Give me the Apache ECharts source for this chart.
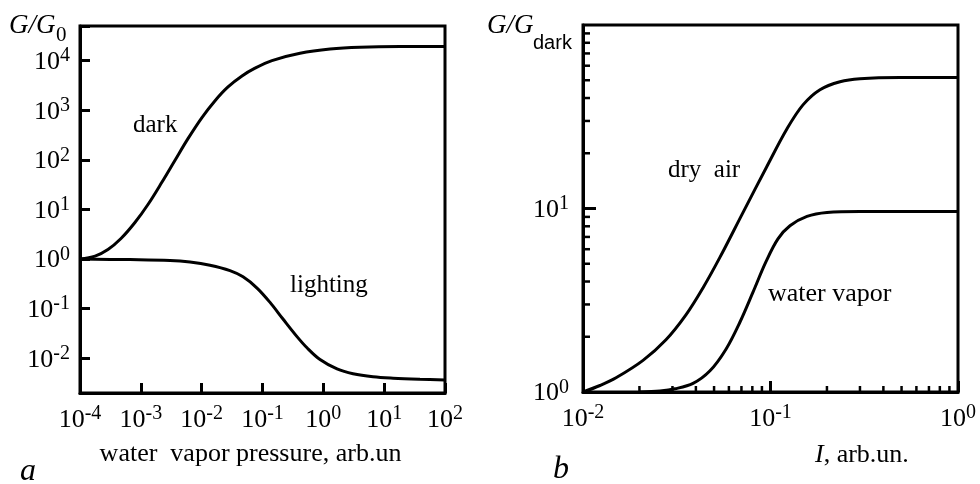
<!DOCTYPE html>
<html>
<head>
<meta charset="utf-8">
<title>G/G0 vs water vapor pressure</title>
<script src="https://cdn.jsdelivr.net/npm/echarts@6/dist/echarts.min.js"></script>
<style>
    html, body { margin: 0; padding: 0; background: #fff; }
    #chart { width: 980px; height: 484px; }
</style>
</head>
<body>
<div id="chart"></div>
<script>
// panel a: G/G0 against water vapor pressure
var darkX = [1e-4, 1.77e-4, 2.88e-4, 4.72e-4, 8.0e-4, 1.31e-3, 2.23e-3, 3.65e-3, 5.96e-3, 1.01e-2, 1.66e-2, 2.71e-2, 4.6e-2, 7.53e-2, 0.143, 0.414, 1.29, 4.0, 18.2, 100];
var darkY = [1, 1.15, 1.56, 2.6, 5.46, 12.6, 35.8, 98.6, 268, 713, 1563, 2958, 4910, 7050, 10050, 14100, 17140, 18660, 19200, 19200];
var lightX = [1e-4, 6.64e-4, 3.02e-3, 6.43e-3, 0.0137, 0.0292, 0.0479, 0.0813, 0.133, 0.217, 0.369, 0.539, 0.882, 1.68, 3.08, 6.56, 14.0, 38.8, 100];
var lightY = [1, 0.977, 0.941, 0.874, 0.753, 0.586, 0.439, 0.261, 0.134, 0.062, 0.0274, 0.0163, 0.00946, 0.00611, 0.00489, 0.00425, 0.00398, 0.00378, 0.00366];

// panel b: G/Gdark against light intensity
var dryX = [0.01, 0.01232, 0.015, 0.0209, 0.0277, 0.0354, 0.0437, 0.0538, 0.0713, 0.0958, 0.1225, 0.149, 0.1836, 0.2348, 0.30, 0.4905, 1];
var dryY = [1, 1.085, 1.195, 1.487, 1.927, 2.634, 3.703, 5.43, 9.5, 17.0, 27.2, 36.7, 44.4, 49.1, 51.0, 51.8, 51.8];
var vaporX = [0.0201, 0.02575, 0.03096, 0.03862, 0.04756, 0.05789, 0.06876, 0.08066, 0.09462, 0.1096, 0.127, 0.1565, 0.2001, 0.30, 1];
var vaporY = [1, 1.013, 1.041, 1.114, 1.305, 1.711, 2.407, 3.5, 5.13, 6.83, 8.05, 9.05, 9.51, 9.63, 9.63];

// minor ticks of panel b
var minorXB = [0.02, 0.03, 0.04, 0.05, 0.06, 0.07, 0.08, 0.09, 0.2, 0.3, 0.4, 0.5, 0.6, 0.7, 0.8, 0.9];
var minorYB = [2, 3, 4, 5, 6, 7, 8, 9, 20, 30, 40, 50, 60, 70, 80, 90];

var serif = '"Liberation Serif", "DejaVu Serif", serif';
var sans = '"Liberation Sans", Arial, sans-serif';

function pairs(xs, ys) {
    return xs.map(function (x, i) { return [x, ys[i]]; });
}

// 10^n label, skip values that are not whole decades
function powLabel(v) {
    var n = Math.log10(v);
    if (Math.abs(n - Math.round(n)) > 1e-6) {
        return '';
    }
    return '{m|10}{s|' + Math.round(n) + '}';
}

var labelRich = {
    m: { fontFamily: serif, fontSize: 26, lineHeight: 29, color: '#000', verticalAlign: 'bottom' },
    s: { fontFamily: serif, fontSize: 20, lineHeight: 20, color: '#000', verticalAlign: 'top' }
};

function curve(name, xi, yi, data) {
    return {
        name: name,
        type: 'line',
        xAxisIndex: xi,
        yAxisIndex: yi,
        data: data,
        smooth: 0.35,
        showSymbol: false,
        lineStyle: { color: '#000', width: 3 },
        silent: true
    };
}

function minorTicks(data, horizontal) {
    return {
        type: 'custom',
        xAxisIndex: 1,
        yAxisIndex: 1,
        silent: true,
        data: data,
        renderItem: function (params, api) {
            var p = api.coord([api.value(0), api.value(1)]);
            var end = horizontal ? [p[0] + 7, p[1]] : [p[0], p[1] - 6];
            return {
                type: 'line',
                shape: { x1: p[0], y1: p[1], x2: end[0], y2: end[1] },
                style: { stroke: '#000', lineWidth: 2.5 }
            };
        }
    };
}

function label(x, y, text, font) {
    return { type: 'text', x: x, y: y, style: { text: text, font: font, fill: '#000', textVerticalAlign: 'middle' } };
}

var chart = echarts.init(document.getElementById('chart'));
chart.setOption({
    animation: false,
    backgroundColor: '#fff',
    grid: [
        { left: 80, top: 26, width: 365, height: 367, show: true, borderColor: '#000', borderWidth: 3 },
        { left: 583, top: 25, width: 375, height: 367, show: true, borderColor: '#000', borderWidth: 3 }
    ],
    xAxis: [
        {
            type: 'log', gridIndex: 0, min: 1e-4, max: 100,
            axisLine: { lineStyle: { color: '#000', width: 3 } },
            axisTick: { inside: true, length: 10, lineStyle: { color: '#000', width: 3 } },
            splitLine: { show: false },
            axisLabel: { margin: 11, formatter: powLabel, rich: labelRich },
            name: 'water  vapor pressure, arb.un',
            nameLocation: 'middle',
            nameGap: 48,
            nameTextStyle: { fontFamily: serif, fontSize: 26, color: '#000', padding: [0, 24, 0, 0] }
        },
        {
            type: 'log', gridIndex: 1, min: 0.01, max: 1,
            axisLine: { lineStyle: { color: '#000', width: 3 } },
            axisTick: { inside: true, length: 11, lineStyle: { color: '#000', width: 3 } },
            splitLine: { show: false },
            axisLabel: { margin: 11, formatter: powLabel, rich: labelRich }
        }
    ],
    yAxis: [
        {
            type: 'log', gridIndex: 0, min: 0.002, max: 50000,
            axisLine: { lineStyle: { color: '#000', width: 3 } },
            axisTick: { inside: true, length: 10, lineStyle: { color: '#000', width: 3 } },
            splitLine: { show: false },
            axisLabel: { margin: 10, formatter: powLabel, rich: labelRich }
        },
        {
            type: 'log', gridIndex: 1, min: 1, max: 100,
            axisLine: { lineStyle: { color: '#000', width: 3 } },
            axisTick: { inside: true, length: 13, lineStyle: { color: '#000', width: 3 } },
            splitLine: { show: false },
            axisLabel: { margin: 14, formatter: powLabel, rich: labelRich, showMaxLabel: false }
        }
    ],
    series: [
        curve('dark', 0, 0, pairs(darkX, darkY)),
        curve('lighting', 0, 0, pairs(lightX, lightY)),
        curve('dry air', 1, 1, pairs(dryX, dryY)),
        curve('water vapor', 1, 1, pairs(vaporX, vaporY)),
        minorTicks(minorXB.map(function (v) { return [v, 1]; }), false),
        minorTicks(minorYB.map(function (v) { return [0.01, v]; }), true)
    ],
    graphic: [
        // axis titles
        label(9, 26, 'G/G', 'italic 27px ' + serif),
        label(56, 35, '0', '21px ' + serif),
        label(487, 26, 'G/G', 'italic 27px ' + serif),
        label(533, 43, 'dark', '20px ' + sans),
        {
            type: 'text', x: 815, y: 455,
            style: {
                text: '{i|I}{r|, arb.un.}', textVerticalAlign: 'middle',
                rich: {
                    i: { fontFamily: serif, fontStyle: 'italic', fontSize: 26, color: '#000' },
                    r: { fontFamily: serif, fontSize: 26, color: '#000' }
                }
            }
        },
        // curve names
        label(133, 125, 'dark', '25px ' + serif),
        label(290, 285, 'lighting', '25px ' + serif),
        label(668, 170, 'dry  air', '25px ' + serif),
        label(768, 294, 'water vapor', '26px ' + serif),
        // panel letters
        label(20, 472, 'a', 'italic 32px ' + serif),
        label(553, 470, 'b', 'italic 32px ' + serif)
    ]
});
</script>
</body>
</html>
